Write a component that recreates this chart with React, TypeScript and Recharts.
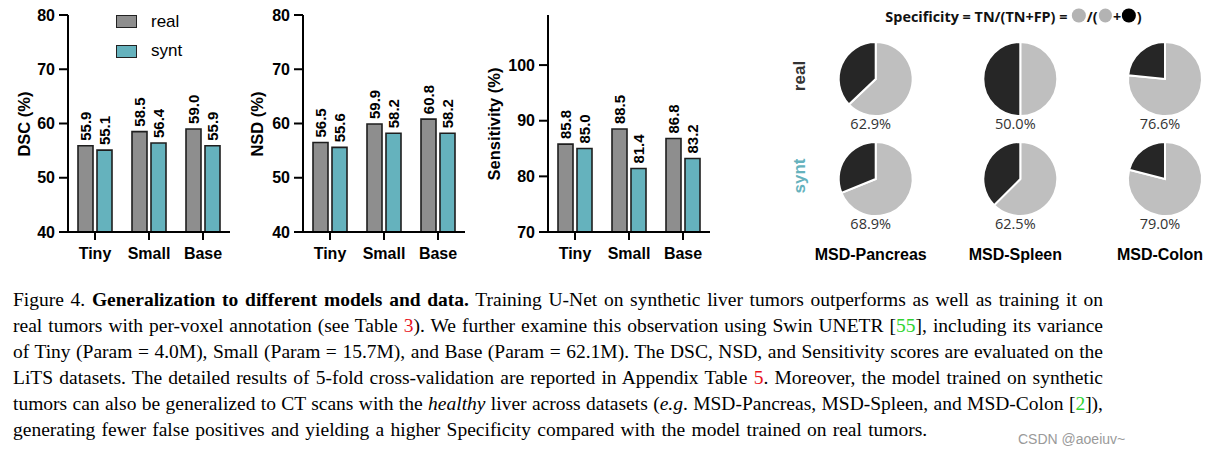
import React from 'react';
import { BarChart, Bar, XAxis, YAxis, LabelList, PieChart, Pie, Cell } from 'recharts';

// ---------- data ----------
const categories = ['Tiny', 'Small', 'Base'];
const seriesNames = ['real', 'synt'];

const dscReal = [55.9, 58.5, 59.0];
const dscSynt = [55.1, 56.4, 55.9];
const nsdReal = [56.5, 59.9, 60.8];
const nsdSynt = [55.6, 58.2, 58.2];
const sensReal = [85.8, 88.5, 86.8];
const sensSynt = [85.0, 81.4, 83.2];

const scoreTicks = [40, 50, 60, 70, 80];
const sensTicks = [70, 80, 90, 100];

const datasets = ['MSD-Pancreas', 'MSD-Spleen', 'MSD-Colon'];
const specReal = [62.9, 50.0, 76.6];
const specSynt = [68.9, 62.5, 79.0];

// ---------- styles ----------
const SANS = '"Liberation Sans", Arial, Helvetica, sans-serif';
const SERIF = '"Liberation Serif", "Times New Roman", Times, serif';
const PIE_FONT = '"Open Sans", "Noto Sans", sans-serif';
const REAL_COLOR = '#8e8e8e';
const SYNT_COLOR = '#65b2bd';
const TN_COLOR = '#bfbfbf';
const FP_COLOR = '#262626';
const seriesColors = [REAL_COLOR, SYNT_COLOR];

const build = (r: number[], s: number[]) =>
  categories.map((c, i) => ({ name: c, real: r[i], synt: s[i] }));

const BarValueLabel = (props: any) => {
  const { x, y, width, value } = props;
  const cx = Number(x) + Number(width) / 2;
  const cy = Number(y) - 5;
  return (
    <text
      x={cx}
      y={cy}
      transform={`rotate(-90 ${cx} ${cy})`}
      textAnchor="start"
      dominantBaseline="central"
      fontFamily={SANS}
      fontWeight="bold"
      fontSize={15}
      fill="#000"
    >
      {Number(value).toFixed(1)}
    </text>
  );
};

const LegendBox = () => (
  <div style={{ position: 'absolute', left: 116, top: 7, fontFamily: SANS, fontSize: 17 }}>
    {seriesNames.map((n, i) => (
      <div key={n} style={{ display: 'flex', alignItems: 'center', height: 29.5 }}>
        <span
          style={{
            display: 'inline-block',
            width: 19,
            height: 11,
            background: seriesColors[i],
            border: '1.5px solid #222',
            marginRight: 14,
          }}
        />
        <span style={{ color: '#000' }}>{n}</span>
      </div>
    ))}
  </div>
);

type MetricProps = {
  data: any[];
  domain: [number, number];
  ticks: number[];
  left: number;
  label: string;
  labelX: number;
  legend?: boolean;
};

const MetricChart = ({ data, domain, ticks, left, label, labelX, legend }: MetricProps) => (
  <div style={{ position: 'absolute', left, top: 0, width: 240, height: 270 }}>
    <BarChart
      width={240}
      height={270}
      data={data}
      margin={{ top: 15, right: 10, bottom: 8, left: 8 }}
      barSize={15}
      barGap={4}
    >
      <XAxis
        dataKey="name"
        height={30}
        axisLine={{ stroke: '#000', strokeWidth: 2 }}
        tickLine={{ stroke: '#000', strokeWidth: 2 }}
        tickSize={8}
        tickMargin={8}
        tick={{ fill: '#000', fontSize: 16, fontWeight: 'bold', fontFamily: SANS }}
        interval={0}
      />
      <YAxis
        type="number"
        domain={domain}
        ticks={ticks}
        interval={0}
        width={60}
        axisLine={{ stroke: '#000', strokeWidth: 2 }}
        tickLine={{ stroke: '#000', strokeWidth: 2 }}
        tickSize={9}
        tickMargin={4}
        tick={{ fill: '#000', fontSize: 16, fontWeight: 'bold', fontFamily: SANS }}
        allowDataOverflow
      />
      <Bar dataKey="real" name={seriesNames[0]} fill={REAL_COLOR} stroke="#1e1e1e" strokeWidth={1.6} isAnimationActive={false}>
        <LabelList dataKey="real" content={<BarValueLabel />} />
      </Bar>
      <Bar dataKey="synt" name={seriesNames[1]} fill={SYNT_COLOR} stroke="#1e1e1e" strokeWidth={1.6} isAnimationActive={false}>
        <LabelList dataKey="synt" content={<BarValueLabel />} />
      </Bar>
    </BarChart>
    {legend && <LegendBox />}
    <div
      style={{
        position: 'absolute',
        left: labelX,
        top: 123.5,
        transform: 'translate(-50%, -50%) rotate(-90deg)',
        whiteSpace: 'nowrap',
        fontFamily: SANS,
        fontWeight: 'bold',
        fontSize: 16.5,
        color: '#000',
      }}
    >
      {label}
    </div>
  </div>
);

const pieCx = [110.7, 255.3, 400];
const pieCy = [74, 174];
const rowLabels = ['real', 'synt'];
const rowColors = ['#333', SYNT_COLOR];

const Dot = ({ c }: { c: string }) => (
  <span style={{ display: 'inline-block', width: 13.5, height: 13.5, borderRadius: '50%', background: c, margin: '0 1px' }} />
);

const SpecPies = () => {
  const rows = [specReal, specSynt];
  return (
    <div style={{ position: 'absolute', left: 760, top: 0, width: 466, height: 270 }}>
      <PieChart width={466} height={270}>
        {rows.map((row, ri) =>
          row.map((v, ci) => (
            <Pie
              key={`${ri}-${ci}`}
              data={[
                { name: 'TN', value: v },
                { name: 'FP', value: 100 - v },
              ]}
              dataKey="value"
              cx={pieCx[ci]}
              cy={pieCy[ri]}
              outerRadius={37}
              innerRadius={0}
              startAngle={90}
              endAngle={-270}
              stroke="#fff"
              strokeWidth={2}
              isAnimationActive={false}
            >
              <Cell fill={TN_COLOR} />
              <Cell fill={FP_COLOR} />
            </Pie>
          ))
        )}
      </PieChart>
      {/* title */}
      <div
        style={{
          position: 'absolute',
          left: 253.5,
          top: 15.5,
          transform: 'translate(-50%, -50%)',
          whiteSpace: 'nowrap',
          fontFamily: PIE_FONT,
          fontWeight: 'bold',
          fontSize: 14.4,
          color: '#111',
          display: 'flex',
          alignItems: 'center',
        }}
      >
        <span>Specificity = TN/(TN+FP) =&nbsp;</span>
        <Dot c="#b3b3b3" />
        <span>/(</span>
        <Dot c="#b3b3b3" />
        <span>+</span>
        <Dot c="#000" />
        <span>)</span>
      </div>
      {/* row labels */}
      {rowLabels.map((t, ri) => (
        <div
          key={t}
          style={{
            position: 'absolute',
            left: 40,
            top: pieCy[ri] + 2,
            transform: 'translate(-50%, -50%) rotate(-90deg)',
            whiteSpace: 'nowrap',
            fontFamily: SANS,
            fontWeight: 'bold',
            fontSize: 17,
            color: rowColors[ri],
          }}
        >
          {t}
        </div>
      ))}
      {/* percentage labels */}
      {rows.map((row, ri) =>
        row.map((v, ci) => (
          <div
            key={`p-${ri}-${ci}`}
            style={{
              position: 'absolute',
              left: pieCx[ci],
              top: pieCy[ri] + 49,
              transform: 'translate(-50%, -50%)',
              whiteSpace: 'nowrap',
              fontFamily: PIE_FONT,
              fontSize: 14.5,
              color: '#333',
            }}
          >
            {v.toFixed(1)}%
          </div>
        ))
      )}
      {/* dataset labels */}
      {datasets.map((d, ci) => (
        <div
          key={d}
          style={{
            position: 'absolute',
            left: pieCx[ci],
            top: 255,
            transform: 'translate(-50%, -50%)',
            whiteSpace: 'nowrap',
            fontFamily: SANS,
            fontWeight: 'bold',
            fontSize: 16,
            color: '#000',
          }}
        >
          {d}
        </div>
      ))}
    </div>
  );
};

const red = (t: string) => <span style={{ color: '#e8141c' }}>{t}</span>;
const green = (t: string) => <span style={{ color: '#2fd42f' }}>{t}</span>;

const Caption = () => {
  const lineStyle: React.CSSProperties = {
    height: 26.1,
    lineHeight: '26.1px',
    textAlign: 'justify',
    textAlignLast: 'justify',
    whiteSpace: 'normal',
  };
  return (
    <div
      style={{
        position: 'absolute',
        left: 13,
        top: 287,
        width: 1090,
        fontFamily: SERIF,
        fontSize: 19.5,
        color: '#000',
      }}
    >
      <div style={lineStyle}>
        Figure 4. <b>Generalization to different models and data.</b> Training U-Net on synthetic liver tumors outperforms as well as training it on
      </div>
      <div style={lineStyle}>
        real tumors with per-voxel annotation (see Table {red('3')}). We further examine this observation using Swin UNETR [{green('55')}], including its variance
      </div>
      <div style={lineStyle}>
        of Tiny (Param = 4.0M), Small (Param = 15.7M), and Base (Param = 62.1M). The DSC, NSD, and Sensitivity scores are evaluated on the
      </div>
      <div style={lineStyle}>
        LiTS datasets. The detailed results of 5-fold cross-validation are reported in Appendix Table {red('5')}. Moreover, the model trained on synthetic
      </div>
      <div style={lineStyle}>
        tumors can also be generalized to CT scans with the <i>healthy</i> liver across datasets (<i>e.g</i>. MSD-Pancreas, MSD-Spleen, and MSD-Colon [{green('2')}]),
      </div>
      <div style={{ ...lineStyle, textAlignLast: 'left', whiteSpace: 'nowrap', wordSpacing: '1.4px' }}>
        generating fewer false positives and yielding a higher Specificity compared with the model trained on real tumors.
      </div>
    </div>
  );
};

export default function App() {
  return (
    <div style={{ position: 'absolute', left: 0, top: 0, width: 1226, height: 454, background: '#fff', overflow: 'hidden' }}>
      <MetricChart data={build(dscReal, dscSynt)} domain={[40, 80]} ticks={scoreTicks} left={0} label="DSC (%)" labelX={24} legend />
      <MetricChart data={build(nsdReal, nsdSynt)} domain={[40, 80]} ticks={scoreTicks} left={235} label="NSD (%)" labelX={22} />
      <MetricChart data={build(sensReal, sensSynt)} domain={[70, 109]} ticks={sensTicks} left={480} label="Sensitivity (%)" labelX={14} />
      <SpecPies />
      <Caption />
      <div
        style={{
          position: 'absolute',
          left: 1018,
          top: 431,
          fontFamily: SANS,
          fontSize: 14,
          color: '#9a9a9a',
          whiteSpace: 'nowrap',
        }}
      >
        CSDN @aoeiuv~
      </div>
    </div>
  );
}
